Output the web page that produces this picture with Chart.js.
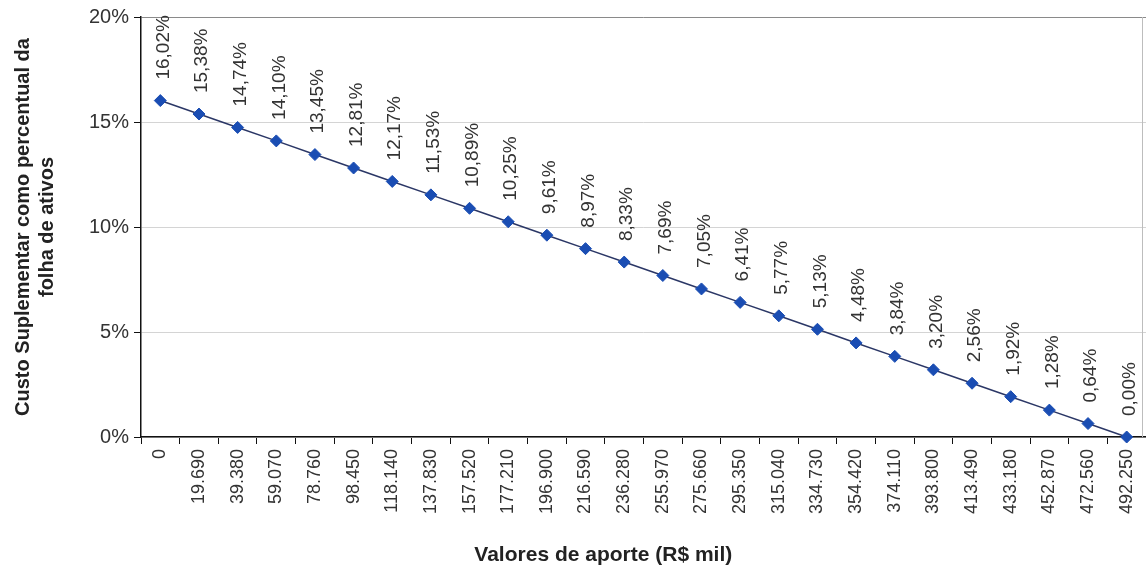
<!DOCTYPE html>
<html>
<head>
<meta charset="utf-8">
<script src="https://cdn.jsdelivr.net/npm/chart.js@4.4.0/dist/chart.umd.min.js"></script>
<style>
  body { margin: 0; background: #fff; }
  #box { width: 1146px; height: 571px; }
</style>
</head>
<body>
<div id="box"><canvas id="graficoCusto"></canvas></div>
<script>
// categorias (valores de aporte, R$ mil)
let aportes = ["0", "19.690", "39.380", "59.070", "78.760", "98.450", "118.140", "137.830",
  "157.520", "177.210", "196.900", "216.590", "236.280", "255.970", "275.660", "295.350",
  "315.040", "334.730", "354.420", "374.110", "393.800", "413.490", "433.180", "452.870",
  "472.560", "492.250"];

// custo suplementar (% da folha de ativos)
let custo = [16.02, 15.38, 14.74, 14.10, 13.45, 12.81, 12.17, 11.53, 10.89, 10.25, 9.61, 8.97,
  8.33, 7.69, 7.05, 6.41, 5.77, 5.13, 4.48, 3.84, 3.20, 2.56, 1.92, 1.28, 0.64, 0.00];

let ticksY = [0, 5, 10, 15, 20];

let fonte = "'Liberation Sans', Arial, sans-serif";

// rotulos verticais acima de cada ponto, borda direita e titulo do eixo x
let rotulos = {
  id: "rotulos",
  afterDatasetsDraw(chart) {
    let ctx = chart.ctx;
    let area = chart.chartArea;
    ctx.save();
    ctx.strokeStyle = "#bdbdbd";
    ctx.lineWidth = 1;
    ctx.beginPath();
    ctx.moveTo(area.right - 3.5, area.top);
    ctx.lineTo(area.right - 3.5, area.bottom);
    ctx.stroke();

    ctx.fillStyle = "#333";
    ctx.font = "19px " + fonte;
    ctx.textAlign = "left";
    ctx.textBaseline = "middle";
    let meta = chart.getDatasetMeta(0);
    meta.data.forEach((pt, i) => {
      let txt = custo[i].toFixed(2).replace(".", ",") + "%";
      ctx.save();
      ctx.translate(pt.x + 3, pt.y - 21);
      ctx.rotate(-Math.PI / 2);
      ctx.fillText(txt, 0, 0);
      ctx.restore();
    });

    // titulo do eixo x (levemente deslocado para a esquerda, como no original)
    ctx.fillStyle = "#222";
    ctx.font = "bold 21px " + fonte;
    ctx.textAlign = "center";
    ctx.fillText("Valores de aporte (R$ mil)", area.left + (area.right - area.left) * 0.46, 555);
    ctx.restore();
  },
};

let ctx = document.getElementById("graficoCusto").getContext("2d");

let grafico = new Chart(ctx, {
  type: "line",
  data: {
    labels: aportes,
    datasets: [{
      data: custo,
      borderColor: "#2b3766",
      borderWidth: 1.5,
      pointStyle: "rectRot",
      pointRadius: 6,
      pointBackgroundColor: "#1a4db3",
      pointBorderColor: "#1a4db3",
      pointBorderWidth: 1,
      tension: 0,
      clip: false,
    }],
  },
  options: {
    responsive: true,
    maintainAspectRatio: false,
    animation: false,
    layout: { autoPadding: false, padding: { top: 17, right: 0, left: 0, bottom: 0 } },
    plugins: {
      legend: { display: false },
      tooltip: { enabled: false },
    },
    scales: {
      x: {
        offset: true,
        afterFit: (s) => {
          s.height = 134;
          s.paddingLeft = 0;
          s.paddingRight = 0;
        },
        grid: {
          offset: true,
          drawOnChartArea: false,
          tickLength: 7,
          tickColor: "#111",
        },
        border: { color: "#111", width: 1.5 },
        ticks: {
          autoSkip: false,
          minRotation: 90,
          maxRotation: 90,
          padding: 5,
          color: "#333",
          font: { family: fonte, size: 18 },
        },
      },
      y: {
        min: 0,
        max: 20,
        afterFit: (s) => { s.width = 141; },
        afterBuildTicks: (s) => { s.ticks = ticksY.map((v) => ({ value: v })); },
        grid: {
          color: (c) => (c.tick && c.tick.value === 20 ? "#8a8a8a" : "#d4d4d4"),
          tickLength: 7,
          tickColor: "#111",
        },
        border: { color: "#111", width: 1.5 },
        ticks: {
          padding: 5,
          color: "#333",
          callback: (v) => v + "%",
          font: { family: fonte, size: 20 },
        },
        title: {
          display: true,
          text: ["Custo Suplementar como percentual da", "folha de ativos"],
          color: "#222",
          font: { family: fonte, size: 20, weight: "bold" },
          padding: { top: 11, bottom: 0 },
        },
      },
    },
  },
  plugins: [rotulos],
});
</script>
</body>
</html>
